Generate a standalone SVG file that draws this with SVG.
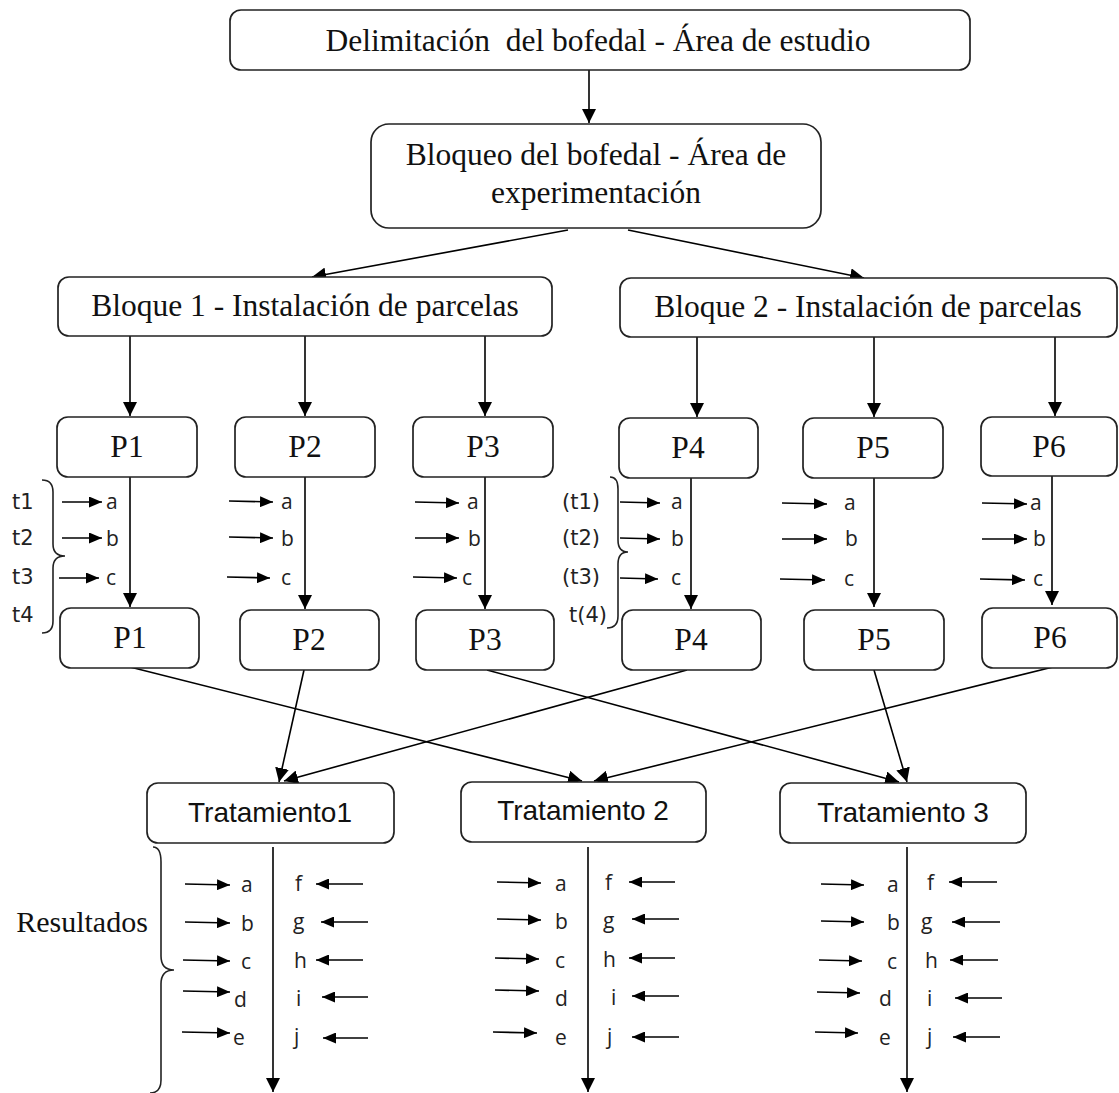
<svg xmlns="http://www.w3.org/2000/svg" width="1119" height="1093" viewBox="0 0 1119 1093">
<defs>
<marker id="ah" markerUnits="userSpaceOnUse" markerWidth="14" markerHeight="14" refX="14" refY="7" orient="auto"><path d="M0,0 L14,7 L0,14 z" fill="#000"/></marker>
<marker id="sa" markerUnits="userSpaceOnUse" markerWidth="13" markerHeight="11" refX="13" refY="5.5" orient="auto"><path d="M0,0 L13,5.5 L0,11 z" fill="#000"/></marker>
</defs>
<style>
.box{fill:#fff;stroke:#222;stroke-width:1.7}
.ser{font-family:"Liberation Serif","Times New Roman",serif;font-size:31.5px;fill:#111;text-anchor:middle}
.san{font-family:"Liberation Sans",Arial,sans-serif;font-size:28px;fill:#111;text-anchor:middle}
.tl{font-family:"DejaVu Sans",Verdana,sans-serif;font-size:21px;fill:#222}
.lt{font-family:"Open Sans","Noto Sans",sans-serif;font-size:21px;fill:#222}
.c{fill:none;stroke:#000;stroke-width:1.6}
.m{marker-end:url(#ah)}
.s{fill:none;stroke:#000;stroke-width:1.6;marker-end:url(#sa)}
.br{fill:none;stroke:#222;stroke-width:1.6}
</style>
<rect width="1119" height="1093" fill="#fff"/>

<g id="connectors">
<line class="c m" x1="589" y1="70" x2="589" y2="123"/>
<line class="c m" x1="568" y1="230" x2="312" y2="277"/>
<line class="c m" x1="628" y1="230" x2="864" y2="278"/>
<line class="c m" x1="130" y1="336" x2="130" y2="416"/>
<line class="c m" x1="305" y1="336" x2="305" y2="416"/>
<line class="c m" x1="485" y1="336" x2="485" y2="416"/>
<line class="c m" x1="697" y1="337" x2="697" y2="417"/>
<line class="c m" x1="874" y1="337" x2="874" y2="417"/>
<line class="c m" x1="1055" y1="337" x2="1055" y2="416"/>
<line class="c m" x1="130" y1="477" x2="130" y2="607"/>
<line class="c m" x1="305" y1="477" x2="305" y2="609"/>
<line class="c m" x1="485" y1="477" x2="485" y2="609"/>
<line class="c m" x1="691" y1="478" x2="691" y2="609"/>
<line class="c m" x1="874" y1="478" x2="874" y2="607"/>
<line class="c m" x1="1052" y1="476" x2="1052" y2="605"/>
<line class="c m" x1="130" y1="667" x2="582" y2="781"/>
<line class="c m" x1="304" y1="670" x2="279" y2="782"/>
<line class="c m" x1="687" y1="670" x2="284" y2="781"/>
<line class="c m" x1="487" y1="670" x2="899" y2="782"/>
<line class="c m" x1="874" y1="670" x2="907" y2="782"/>
<line class="c m" x1="1053" y1="667" x2="594" y2="781"/>
<line class="c m" x1="273" y1="847" x2="273" y2="1092"/>
<line class="c m" x1="588" y1="847" x2="588" y2="1092"/>
<line class="c m" x1="907" y1="847" x2="907" y2="1092"/>
<!-- small arrows P rows -->
<line class="s" x1="62" y1="502" x2="102" y2="502"/>
<line class="s" x1="62" y1="538" x2="102" y2="538"/>
<line class="s" x1="59" y1="578" x2="99" y2="578"/>
<line class="s" x1="229" y1="501" x2="273" y2="502"/>
<line class="s" x1="229" y1="537" x2="273" y2="538"/>
<line class="s" x1="227" y1="577" x2="270" y2="578"/>
<line class="s" x1="415" y1="502" x2="459" y2="503"/>
<line class="s" x1="415" y1="538" x2="459" y2="538"/>
<line class="s" x1="413" y1="577" x2="457" y2="578"/>
<line class="s" x1="620" y1="502" x2="660" y2="503"/>
<line class="s" x1="620" y1="538" x2="660" y2="539"/>
<line class="s" x1="620" y1="578" x2="658" y2="579"/>
<line class="s" x1="782" y1="503" x2="827" y2="504"/>
<line class="s" x1="782" y1="539" x2="827" y2="539"/>
<line class="s" x1="780" y1="579" x2="825" y2="580"/>
<line class="s" x1="982" y1="503" x2="1027" y2="504"/>
<line class="s" x1="982" y1="539" x2="1027" y2="539"/>
<line class="s" x1="980" y1="579" x2="1025" y2="580"/>
<!-- T1 -->
<line class="s" x1="185" y1="884" x2="230" y2="885"/>
<line class="s" x1="185" y1="922" x2="230" y2="923"/>
<line class="s" x1="183" y1="960" x2="230" y2="961"/>
<line class="s" x1="183" y1="991" x2="230" y2="992"/>
<line class="s" x1="182" y1="1032" x2="230" y2="1033"/>
<line class="s" x1="363" y1="884" x2="316" y2="884"/>
<line class="s" x1="368" y1="922" x2="321" y2="922"/>
<line class="s" x1="363" y1="960" x2="316" y2="960"/>
<line class="s" x1="368" y1="997" x2="322" y2="997"/>
<line class="s" x1="368" y1="1038" x2="323" y2="1038"/>
<!-- T2 -->
<line class="s" x1="497" y1="882" x2="541" y2="883"/>
<line class="s" x1="497" y1="919" x2="541" y2="920"/>
<line class="s" x1="495" y1="958" x2="539" y2="959"/>
<line class="s" x1="495" y1="990" x2="539" y2="991"/>
<line class="s" x1="493" y1="1032" x2="537" y2="1033"/>
<line class="s" x1="675" y1="882" x2="629" y2="882"/>
<line class="s" x1="679" y1="919" x2="632" y2="919"/>
<line class="s" x1="675" y1="958" x2="629" y2="958"/>
<line class="s" x1="679" y1="996" x2="632" y2="996"/>
<line class="s" x1="679" y1="1037" x2="632" y2="1037"/>
<!-- T3 -->
<line class="s" x1="821" y1="884" x2="864" y2="885"/>
<line class="s" x1="821" y1="921" x2="864" y2="922"/>
<line class="s" x1="819" y1="960" x2="862" y2="961"/>
<line class="s" x1="817" y1="992" x2="860" y2="993"/>
<line class="s" x1="815" y1="1032" x2="858" y2="1033"/>
<line class="s" x1="997" y1="882" x2="949" y2="882"/>
<line class="s" x1="1000" y1="922" x2="952" y2="922"/>
<line class="s" x1="998" y1="960" x2="950" y2="960"/>
<line class="s" x1="1002" y1="998" x2="955" y2="998"/>
<line class="s" x1="1000" y1="1037" x2="953" y2="1037"/>
</g>

<g id="braces">
<path class="br" d="M42,480 Q53,480 53,492 L53,544 Q53,556 65,556 Q53,556 53,568 L53,621 Q53,633 42,633"/>
<path class="br" d="M610,477 Q618,477 618,489 L618,540 Q618,552 628,552 Q618,552 618,564 L618,616 Q618,628 607,628"/>
<path class="br" d="M153,847 Q161,847 161,862 L161,956 Q161,970 174,970 Q161,970 161,984 L161,1080 Q161,1093 150,1093"/>
</g>

<g id="n-delimitacion"><rect class="box" x="230" y="10" width="740" height="60" rx="11"/><text class="ser" x="598" y="51" xml:space="preserve">Delimitación  del bofedal - Área de estudio</text></g>
<g id="n-bloqueo"><rect class="box" x="371" y="124" width="450" height="104" rx="18"/><text class="ser" x="596" y="165">Bloqueo del bofedal - Área de</text><text class="ser" x="596" y="203">experimentación</text></g>
<g id="n-bloque1"><rect class="box" x="58" y="277" width="494" height="59" rx="11"/><text class="ser" x="305" y="316">Bloque 1 - Instalación de parcelas</text></g>
<g id="n-bloque2"><rect class="box" x="620" y="278" width="497" height="59" rx="11"/><text class="ser" x="868" y="317">Bloque 2 - Instalación de parcelas</text></g>

<g id="n-p1a"><rect class="box" x="57" y="417" width="140" height="60" rx="11"/><text class="ser" x="127" y="457">P1</text></g>
<g id="n-p2a"><rect class="box" x="235" y="417" width="140" height="60" rx="11"/><text class="ser" x="305" y="457">P2</text></g>
<g id="n-p3a"><rect class="box" x="413" y="417" width="140" height="60" rx="11"/><text class="ser" x="483" y="457">P3</text></g>
<g id="n-p4a"><rect class="box" x="619" y="418" width="139" height="60" rx="11"/><text class="ser" x="688" y="458">P4</text></g>
<g id="n-p5a"><rect class="box" x="803" y="418" width="140" height="60" rx="11"/><text class="ser" x="873" y="458">P5</text></g>
<g id="n-p6a"><rect class="box" x="981" y="417" width="136" height="59" rx="11"/><text class="ser" x="1049" y="457">P6</text></g>

<g id="n-p1b"><rect class="box" x="60" y="608" width="139" height="60" rx="11"/><text class="ser" x="130" y="648">P1</text></g>
<g id="n-p2b"><rect class="box" x="240" y="610" width="139" height="60" rx="11"/><text class="ser" x="309" y="650">P2</text></g>
<g id="n-p3b"><rect class="box" x="416" y="610" width="138" height="60" rx="11"/><text class="ser" x="485" y="650">P3</text></g>
<g id="n-p4b"><rect class="box" x="622" y="610" width="139" height="60" rx="11"/><text class="ser" x="691" y="650">P4</text></g>
<g id="n-p5b"><rect class="box" x="804" y="610" width="140" height="60" rx="11"/><text class="ser" x="874" y="650">P5</text></g>
<g id="n-p6b"><rect class="box" x="982" y="608" width="135" height="60" rx="11"/><text class="ser" x="1050" y="648">P6</text></g>

<g id="n-t1"><rect class="box" x="147" y="783" width="247" height="60" rx="11"/><text class="san" x="270" y="822">Tratamiento1</text></g>
<g id="n-t2"><rect class="box" x="461" y="782" width="245" height="60" rx="11"/><text class="san" x="583" y="820">Tratamiento 2</text></g>
<g id="n-t3"><rect class="box" x="780" y="783" width="246" height="60" rx="11"/><text class="san" x="903" y="822">Tratamiento 3</text></g>

<g id="labels-t">
<text class="tl" x="12" y="509">t1</text>
<text class="tl" x="12" y="545">t2</text>
<text class="tl" x="12" y="584">t3</text>
<text class="tl" x="12" y="622">t4</text>
<text class="tl" x="562" y="509">(t1)</text>
<text class="tl" x="562" y="545">(t2)</text>
<text class="tl" x="562" y="584">(t3)</text>
<text class="tl" x="569" y="622">t(4)</text>
</g>

<g id="labels-abc">
<text class="lt" x="106" y="509">a</text><text class="lt" x="106" y="546">b</text><text class="lt" x="106" y="585">c</text>
<text class="lt" x="281" y="509">a</text><text class="lt" x="281" y="546">b</text><text class="lt" x="281" y="585">c</text>
<text class="lt" x="467" y="509">a</text><text class="lt" x="468" y="546">b</text><text class="lt" x="462" y="585">c</text>
<text class="lt" x="671" y="509">a</text><text class="lt" x="671" y="546">b</text><text class="lt" x="671" y="585">c</text>
<text class="lt" x="844" y="510">a</text><text class="lt" x="845" y="546">b</text><text class="lt" x="844" y="586">c</text>
<text class="lt" x="1030" y="510">a</text><text class="lt" x="1033" y="546">b</text><text class="lt" x="1033" y="586">c</text>
</g>

<g id="resultados">
<text class="ser" x="82" y="932" style="font-size:30px">Resultados</text>
</g>

<g id="labels-t1">
<text class="lt" x="241" y="892">a</text><text class="lt" x="241" y="931">b</text><text class="lt" x="241" y="969">c</text><text class="lt" x="234" y="1007">d</text><text class="lt" x="233" y="1045">e</text>
<text class="lt" x="295" y="891">f</text><text class="lt" x="293" y="929">g</text><text class="lt" x="294" y="968">h</text><text class="lt" x="296" y="1006">i</text><text class="lt" x="294" y="1044">j</text>
</g>
<g id="labels-t2">
<text class="lt" x="555" y="891">a</text><text class="lt" x="555" y="929">b</text><text class="lt" x="555" y="968">c</text><text class="lt" x="555" y="1006">d</text><text class="lt" x="555" y="1045">e</text>
<text class="lt" x="605" y="890">f</text><text class="lt" x="603" y="928">g</text><text class="lt" x="603" y="967">h</text><text class="lt" x="611" y="1005">i</text><text class="lt" x="607" y="1044">j</text>
</g>
<g id="labels-t3">
<text class="lt" x="887" y="892">a</text><text class="lt" x="887" y="930">b</text><text class="lt" x="887" y="969">c</text><text class="lt" x="879" y="1006">d</text><text class="lt" x="879" y="1045">e</text>
<text class="lt" x="927" y="890">f</text><text class="lt" x="921" y="929">g</text><text class="lt" x="925" y="968">h</text><text class="lt" x="927" y="1006">i</text><text class="lt" x="927" y="1044">j</text>
</g>
</svg>
